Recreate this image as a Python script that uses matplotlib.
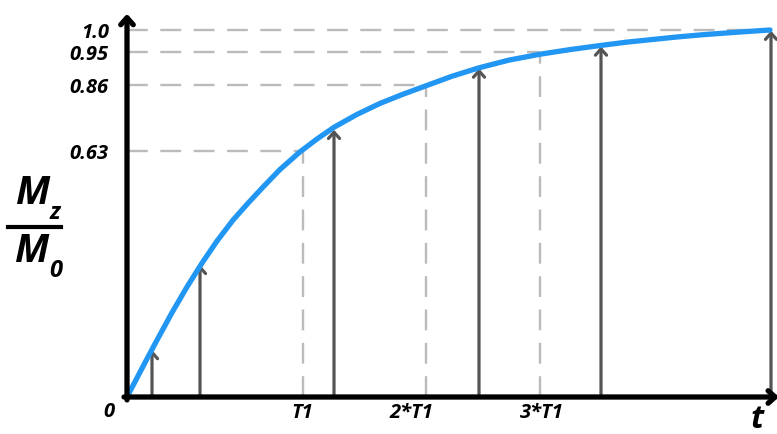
import numpy as np
import matplotlib.pyplot as plt

plt.rcParams['font.family'] = ['Open Sans', 'DejaVu Sans']
plt.rcParams['lines.scale_dashes'] = False

# curve (t in arbitrary units, Mz/M0)
t_curve = [0, 10, 20, 30, 45, 60, 75, 90, 106, 120, 136, 153, 173, 190, 207,
           230, 253, 276, 299, 325, 352, 382, 413, 444, 474, 500, 525, 550,
           575, 610, 643]
mz_curve = [0, 0.052, 0.104, 0.155, 0.230, 0.300, 0.365, 0.425, 0.482, 0.525,
            0.572, 0.620, 0.668, 0.703, 0.735, 0.770, 0.800, 0.825, 0.848,
            0.874, 0.897, 0.918, 0.934, 0.947, 0.958, 0.967, 0.974, 0.981,
            0.987, 0.994, 1.0]

# sampled magnetisation arrows
t_arrows = [25, 73, 207, 352, 474, 644]
mz_arrows = [0.128, 0.36, 0.728, 0.895, 0.955, 0.998]

# y reference levels (position on axis, label)
y_levels = [0.670, 0.850, 0.940, 1.0]
y_labels = ["0.63", "0.86", "0.95", "1.0"]
# how far right each horizontal dashed line runs
y_level_ends = [176, 299, 413, 643]

# x reference times (dashed lines) and where their labels sit
x_times = [176, 299, 413]
x_label_pos = [175, 284, 415]
x_labels = ["T1", "2*T1", "3*T1"]

fig = plt.figure(figsize=(7.77, 4.34), dpi=100)
ax = fig.add_axes([127 / 777, 37 / 434, 650 / 777, 385 / 434])
ax.set_xlim(0, 650)
ax.set_ylim(0, 385 / 367)
for s in ax.spines.values():
    s.set_visible(False)

grey = '#bbbbbb'
# dashed guide lines
for lv, xe in zip(y_levels, y_level_ends):
    ax.plot([0, xe], [lv, lv], color=grey, lw=1.7, dashes=(15, 9), zorder=1)
for xt, lv in zip(x_times, y_levels[:3]):
    ax.plot([xt, xt], [0, lv], color=grey, lw=1.7, dashes=(15, 9), zorder=1)

# arrows
for xa, ya in zip(t_arrows, mz_arrows):
    ax.annotate('', xy=(xa, ya), xytext=(xa, 0),
                arrowprops=dict(arrowstyle='->,head_length=0.45,head_width=0.4',
                                color='#555555', lw=2.3, shrinkA=0, shrinkB=0),
                zorder=2)

# curve
ax.plot(t_curve, mz_curve, color='#2196F3', lw=3.8, zorder=3,
        solid_capstyle='round', solid_joinstyle='round')

# axes with arrow heads
ax.annotate('', xy=(0, 385 / 367 - 0.005), xytext=(0, -0.008),
            arrowprops=dict(arrowstyle='->,head_length=0.5,head_width=0.45',
                            color='black', lw=3.8, shrinkA=0, shrinkB=0),
            annotation_clip=False, zorder=4)
ax.annotate('', xy=(652, 0), xytext=(-3, 0),
            arrowprops=dict(arrowstyle='->,head_length=0.5,head_width=0.45',
                            color='black', lw=3.8, shrinkA=0, shrinkB=0),
            annotation_clip=False, zorder=4)

font = dict(fontsize=14.5, fontweight='bold', fontstyle='italic')
ax.set_yticks(y_levels, y_labels, **font)
ax.set_xticks([])
ax.tick_params(length=0)
ax.tick_params(axis='y', pad=13)
for xp, lab in zip(x_label_pos, x_labels):
    ax.text(xp, -0.044, lab, ha='center', va='center', clip_on=False, **font)

ax.text(-18, -0.041, "0", ha='center', va='center', clip_on=False, **font)
ax.text(630, -0.06, "t", ha='center', va='center', clip_on=False,
        fontsize=23, fontweight='bold', fontstyle='italic')

# Mz / M0 label
big = dict(fontsize=28, fontweight='bold', fontstyle='italic')
fig.text(33 / 777, 1 - 194 / 434, "M", ha='center', va='center', **big)
fig.text(55 / 777, 1 - 213 / 434, "z", ha='center', va='center',
         fontsize=17, fontweight='bold', fontstyle='italic')
fig.text(32 / 777, 1 - 252 / 434, "M", ha='center', va='center', **big)
fig.text(56 / 777, 1 - 271 / 434, "0", ha='center', va='center',
         fontsize=17, fontweight='bold', fontstyle='italic')
fig.add_artist(plt.Line2D([8 / 777, 61 / 777], [1 - 227 / 434, 1 - 227 / 434],
                          color='black', lw=3))

fig.savefig('out.png', dpi=100)
